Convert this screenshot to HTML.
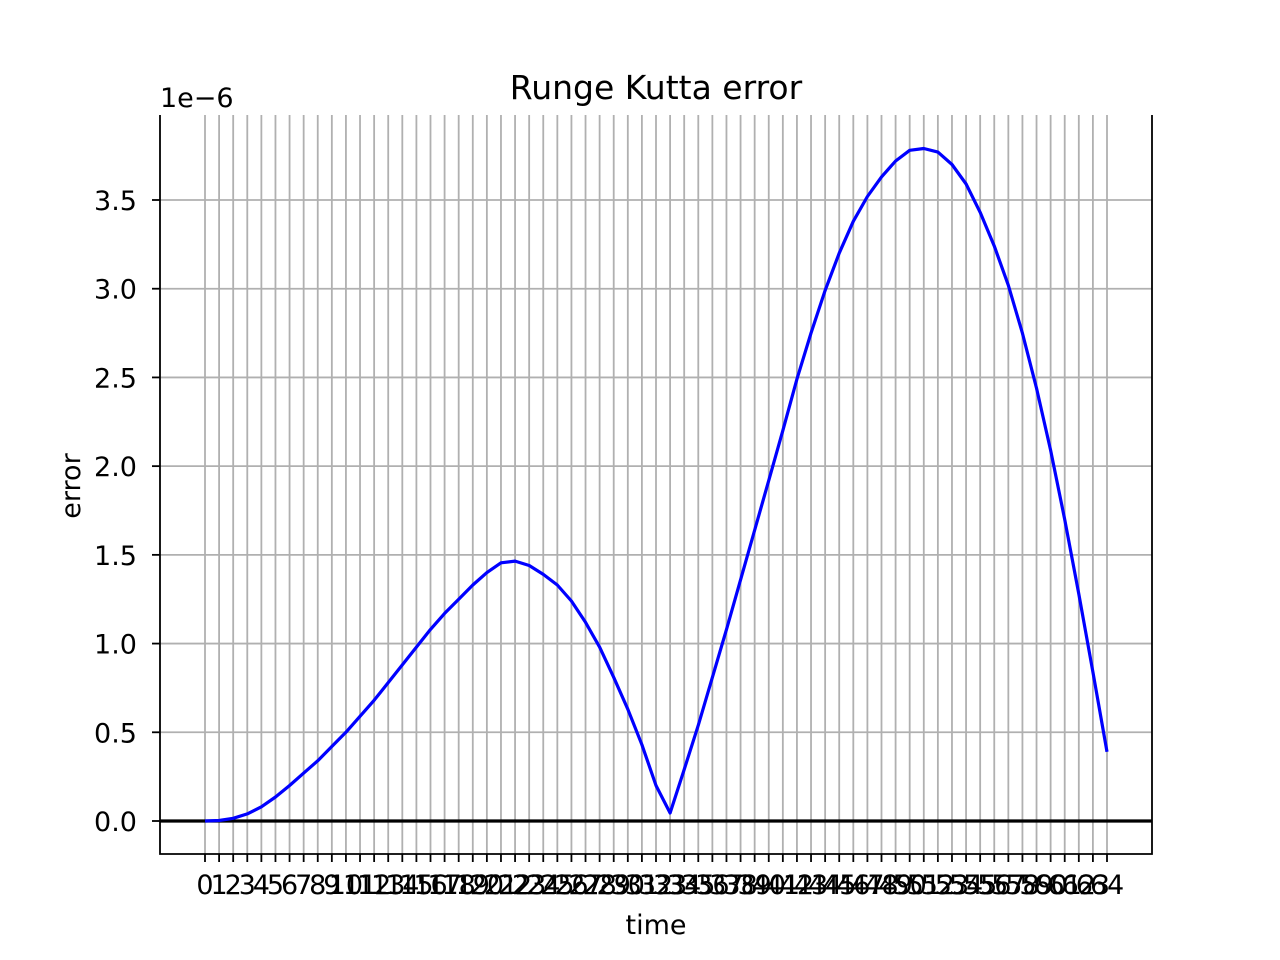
<!DOCTYPE html>
<html><head><meta charset="utf-8"><style>
body{margin:0;background:#fff}
svg{display:block;font-family:"DejaVu Sans","Liberation Sans",sans-serif}
</style></head><body>
<svg id="chart" width="1280" height="960" viewBox="0 0 1280 960"></svg>
<script>
const xValues = Array.from({length:65},(_,i)=>i);
const errorValues = [0,0.003,0.015,0.04,0.08,0.135,0.2,0.27,0.34,0.42,0.5,0.59,0.68,0.78,0.88,0.98,1.08,1.17,1.25,1.33,1.40,1.455,1.465,1.44,1.39,1.33,1.24,1.12,0.98,0.81,0.63,0.43,0.20,0.045,0.29,0.54,0.81,1.08,1.36,1.64,1.92,2.20,2.49,2.75,2.99,3.20,3.38,3.52,3.63,3.72,3.78,3.79,3.77,3.70,3.59,3.43,3.24,3.02,2.75,2.44,2.09,1.70,1.28,0.84,0.39];
const yTicks = [0,0.5,1.0,1.5,2.0,2.5,3.0,3.5];
const yTickLabels = ["0.0","0.5","1.0","1.5","2.0","2.5","3.0","3.5"];

const L=160,R=1152,T=115,B=854;
const xs = i => 205 + (1107-205)*i/64;
const ys = v => 821 - v*(821-200)/3.5;
const svg=document.getElementById('chart');
const NS='http://www.w3.org/2000/svg';
function mk(tag,attrs,parent){const e=document.createElementNS(NS,tag);for(const k in attrs)e.setAttribute(k,attrs[k]);(parent||svg).appendChild(e);return e;}

const grid=mk('g',{});


xValues.forEach(i=>{const l=mk('line',{x1:xs(i),x2:xs(i),y1:T,y2:B,stroke:'#b0b0b0','stroke-width':1.8},grid);

});
yTicks.forEach(v=>{const l=mk('line',{x1:L,x2:R,y1:ys(v),y2:ys(v),stroke:'#b0b0b0','stroke-width':1.8},grid);

});

const zl=mk('line',{x1:L,x2:R,y1:ys(0),y2:ys(0),stroke:'#000','stroke-width':3.2});



const pts=xValues.map((x,i)=>xs(x).toFixed(1)+','+ys(errorValues[i]).toFixed(1)).join(' ');
const line=mk('polyline',{points:pts,fill:'none',stroke:'#0000ff','stroke-width':3.2,'stroke-linejoin':'round'});



const frame=mk('path',{d:`M${L},${T}V${B}H${R}V${T}`,fill:'none',stroke:'#000','stroke-width':1.8});



xValues.forEach(i=>{
 mk('line',{x1:xs(i),x2:xs(i),y1:B,y2:B+8,stroke:'#000','stroke-width':1.8});
 const t=mk('text',{x:xs(i),y:B+40,'text-anchor':'middle','font-size':27},svg);
 t.textContent=String(i);
 
 
});
yTicks.forEach((v,k)=>{
 mk('line',{x1:L-8,x2:L,y1:ys(v),y2:ys(v),stroke:'#000','stroke-width':1.8});
 const t=mk('text',{x:L-23,y:ys(v)+10,'text-anchor':'end','font-size':27});
 t.textContent=yTickLabels[k];
 
 
});
const off=mk('text',{x:L,y:107,'font-size':27});off.textContent='1e\u22126';


const title=mk('text',{x:656,y:99,'text-anchor':'middle','font-size':33});title.textContent='Runge Kutta error';


const xl=mk('text',{x:656,y:934,'text-anchor':'middle','font-size':27});xl.textContent='time';


const yl=mk('text',{x:0,y:0,'text-anchor':'middle','font-size':27,transform:'translate(80,486) rotate(-90)'});yl.textContent='error';


</script>
</body></html>
